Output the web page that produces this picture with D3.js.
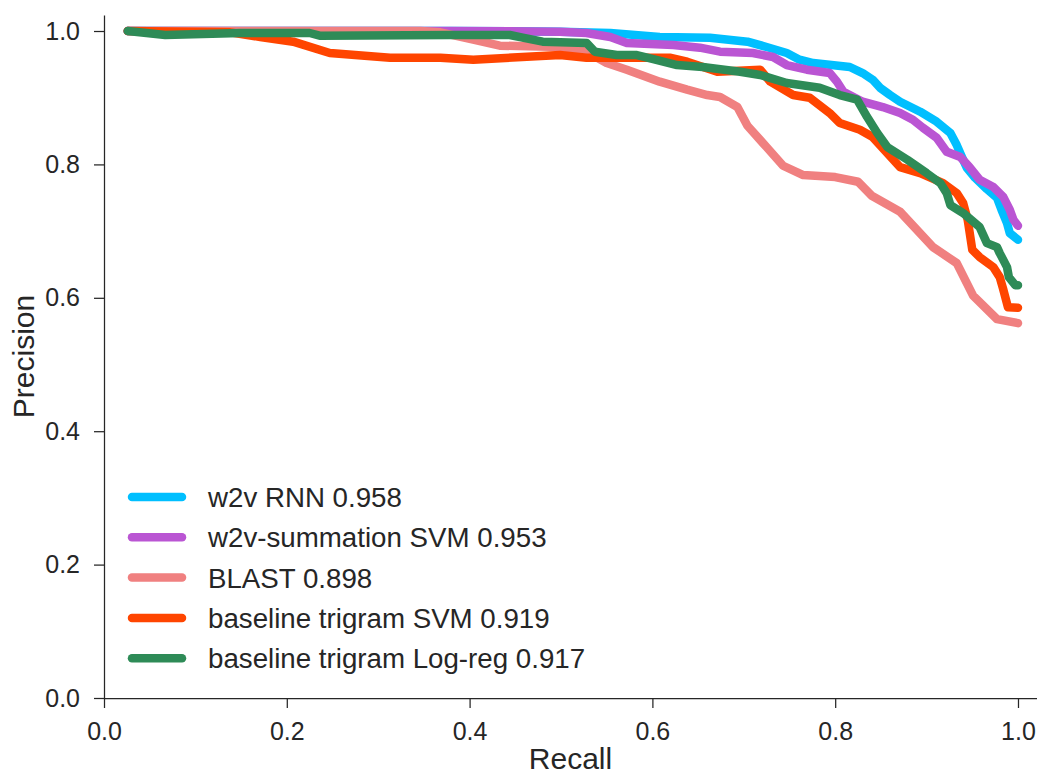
<!DOCTYPE html>
<html>
<head>
<meta charset="utf-8">
<script src="https://cdnjs.cloudflare.com/ajax/libs/d3/7.8.5/d3.min.js"></script>
<style>
  body { margin: 0; background: #fff; }
  text { font-family: "Liberation Sans", Arial, sans-serif; fill: #262626; }
</style>
</head>
<body>
<svg id="chart" width="1037" height="775"></svg>
<script>
// series, in the order they were plotted (last one on top)
var seriesNames = ['w2v RNN 0.958', 'w2v-summation SVM 0.953', 'BLAST 0.898',
  'baseline trigram SVM 0.919', 'baseline trigram Log-reg 0.917'];
var seriesColors = ['#00bfff', '#ba55d3', '#f08080', '#ff4500', '#2e8b57'];

var rnnRecall = [0.026, 0.379, 0.499, 0.554, 0.608, 0.663, 0.704, 0.725, 0.747, 0.761, 0.776, 0.816, 0.830,
  0.841, 0.849, 0.860, 0.871, 0.893, 0.911, 0.926, 0.933, 0.939, 0.944, 0.953, 0.966, 0.977, 0.982, 0.988, 0.991, 1.0];
var rnnPrecision = [1.0, 1.0, 0.999, 0.997, 0.991, 0.990, 0.984, 0.976, 0.967, 0.957, 0.952, 0.946, 0.937,
  0.927, 0.915, 0.904, 0.894, 0.879, 0.864, 0.847, 0.829, 0.810, 0.795, 0.780, 0.763, 0.750, 0.732, 0.712, 0.697, 0.687];

var sumRecall = [0.026, 0.379, 0.499, 0.528, 0.554, 0.572, 0.623, 0.652, 0.674, 0.710, 0.732, 0.747, 0.769, 0.794,
  0.802, 0.809, 0.830, 0.852, 0.871, 0.885, 0.896, 0.911, 0.922, 0.937, 0.947, 0.958, 0.973, 0.984, 0.991, 0.995, 1.0];
var sumPrecision = [1.0, 1.0, 0.999, 0.997, 0.991, 0.982, 0.979, 0.975, 0.969, 0.967, 0.961, 0.949, 0.942, 0.937,
  0.924, 0.909, 0.894, 0.886, 0.877, 0.867, 0.855, 0.840, 0.819, 0.811, 0.796, 0.777, 0.766, 0.751, 0.732, 0.717, 0.708];

var blastRecall = [0.026, 0.346, 0.368, 0.404, 0.433, 0.499, 0.524, 0.550, 0.572, 0.608, 0.638, 0.660, 0.674, 0.693,
  0.704, 0.721, 0.743, 0.765, 0.800, 0.825, 0.840, 0.871, 0.907, 0.933, 0.951, 0.977, 1.0];
var blastPrecision = [1.0, 1.0, 0.998, 0.987, 0.978, 0.976, 0.972, 0.952, 0.942, 0.924, 0.912, 0.904, 0.901, 0.886,
  0.858, 0.832, 0.798, 0.784, 0.781, 0.774, 0.753, 0.729, 0.676, 0.652, 0.603, 0.568, 0.562];

var svmRecall = [0.026, 0.138, 0.171, 0.207, 0.247, 0.313, 0.368, 0.404, 0.499, 0.528, 0.619, 0.638, 0.671, 0.718,
  0.729, 0.754, 0.772, 0.794, 0.805, 0.827, 0.841, 0.857, 0.871, 0.893, 0.918, 0.933, 0.940, 0.945, 0.950, 0.958,
  0.973, 0.980, 0.984, 0.989, 1.0];
var svmPrecision = [1.0, 0.998, 0.991, 0.984, 0.967, 0.960, 0.960, 0.957, 0.964, 0.960, 0.960, 0.954, 0.939, 0.942,
  0.924, 0.904, 0.900, 0.877, 0.862, 0.852, 0.841, 0.817, 0.796, 0.787, 0.772, 0.757, 0.742, 0.717, 0.672, 0.661,
  0.646, 0.631, 0.612, 0.586, 0.585];

var logregRecall = [0.026, 0.067, 0.149, 0.225, 0.236, 0.379, 0.444, 0.458, 0.480, 0.528, 0.537, 0.561, 0.583, 0.601,
  0.627, 0.655, 0.696, 0.718, 0.747, 0.783, 0.805, 0.824, 0.835, 0.846, 0.857, 0.879, 0.900, 0.915, 0.922, 0.926,
  0.940, 0.958, 0.966, 0.977, 0.980, 0.988, 0.990, 0.997, 1.0];
var logregPrecision = [1.0, 0.994, 0.997, 0.997, 0.993, 0.994, 0.994, 0.990, 0.984, 0.982, 0.969, 0.964, 0.964, 0.958,
  0.949, 0.946, 0.939, 0.934, 0.922, 0.915, 0.904, 0.897, 0.871, 0.847, 0.826, 0.807, 0.787, 0.772, 0.757, 0.739,
  0.727, 0.706, 0.682, 0.676, 0.667, 0.646, 0.631, 0.619, 0.619];

var tickValues = [0.0, 0.2, 0.4, 0.6, 0.8, 1.0];

var allRecall = [rnnRecall, sumRecall, blastRecall, svmRecall, logregRecall];
var allPrecision = [rnnPrecision, sumPrecision, blastPrecision, svmPrecision, logregPrecision];

var svg = d3.select('#chart');
// note: "top" is taken by window.top, so use plot* names
var plotLeft = 104, plotRight = 1037, plotTop = 15, plotBottom = 698;

var x = d3.scaleLinear().domain([0, 1.0208]).range([plotLeft, plotRight]);
var y = d3.scaleLinear().domain([0, 1.024]).range([plotBottom, plotTop]);

var fmt = d3.format('.1f');

var xAxis = svg.append('g')
  .attr('transform', 'translate(0,' + plotBottom + ')')
  .call(d3.axisBottom(x).tickValues(tickValues).tickFormat(fmt).tickSize(10).tickSizeOuter(0).tickPadding(14));
var yAxis = svg.append('g')
  .attr('transform', 'translate(' + plotLeft + ',0)')
  .call(d3.axisLeft(y).tickValues(tickValues).tickFormat(fmt).tickSize(10).tickSizeOuter(0).tickPadding(14));

[xAxis, yAxis].forEach(function (ax) {
  ax.select('.domain').attr('stroke', '#262626').attr('stroke-width', 1.25);
  ax.selectAll('.tick line').attr('stroke', '#262626').attr('stroke-width', 1.25);
  ax.selectAll('.tick text')
    .style('font-family', '"Liberation Sans", Arial, sans-serif')
    .style('font-size', '25px')
    .attr('fill', '#262626');
});

// axis titles
svg.append('text')
  .attr('x', (plotLeft + plotRight) / 2)
  .attr('y', 769)
  .attr('text-anchor', 'middle')
  .style('font-size', '30px')
  .text('Recall');

svg.append('text')
  .attr('transform', 'translate(34,' + ((plotTop + plotBottom) / 2) + ') rotate(-90)')
  .attr('text-anchor', 'middle')
  .style('font-size', '30px')
  .text('Precision');

// the curves
var line = d3.line()
  .x(function (d) { return x(d[0]); })
  .y(function (d) { return y(d[1]); });

for (var i = 0; i < seriesNames.length; i++) {
  var points = allRecall[i].map(function (r, j) { return [r, allPrecision[i][j]]; });
  svg.append('path')
    .datum(points)
    .attr('d', line)
    .attr('fill', 'none')
    .attr('stroke', seriesColors[i])
    .attr('stroke-width', 8.5)
    .attr('stroke-linecap', 'round')
    .attr('stroke-linejoin', 'round');
}

// legend
var legend = svg.append('g').attr('transform', 'translate(132,497)');
seriesNames.forEach(function (name, i) {
  var row = legend.append('g').attr('transform', 'translate(0,' + (i * 40.3) + ')');
  row.append('line')
    .attr('x1', 0).attr('x2', 50)
    .attr('stroke', seriesColors[i])
    .attr('stroke-width', 8.5)
    .attr('stroke-linecap', 'round');
  row.append('text')
    .attr('x', 76)
    .attr('y', 10)
    .style('font-size', '27.7px')
    .text(name);
});
</script>
</body>
</html>
